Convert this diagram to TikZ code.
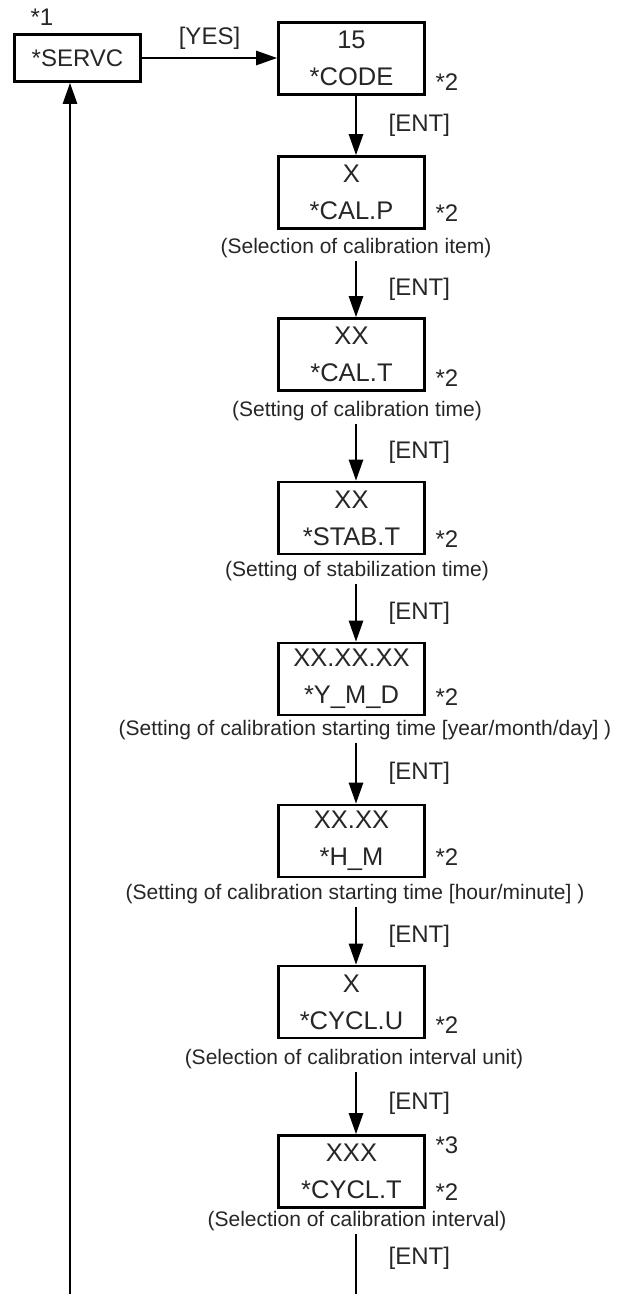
\documentclass[tikz,border=0pt]{standalone}
\usepackage{fontspec}
\setmainfont{Liberation Sans}
\usetikzlibrary{arrows.meta,positioning}

\tikzset{
  menubox/.style={draw,line width=2.6pt,minimum width=146pt,minimum height=72pt,
    inner sep=0pt,align=center,text=black!85,font=\fontsize{25.5}{37}\selectfont},
  caption/.style={text=black!85,font=\fontsize{21}{25}\selectfont},
  note/.style={text=black!85,font=\fontsize{24}{28}\selectfont},
  flow/.style={line width=2.6pt,-{Triangle[length=21pt,width=14pt]}},
  plain/.style={line width=2.6pt}
}

\begin{document}
\begin{tikzpicture}[x=1pt,y=-1pt]
  \useasboundingbox (0,0) rectangle (618,1294);
  \coordinate (col) at (356,0);
  \coordinate (bot) at (356,1294);
  \coordinate (retbot) at (70,1294);

  % service entry
  \node[menubox,minimum width=126pt,minimum height=47pt,font=\fontsize{24}{28}\selectfont]
    (servc) at (77.5,58) {*SERVC};
  \node[note] at (42,17) {*1};

  % menu chain
  \node[menubox] (code)  at (351.5,58.5)   {15\\*CODE};
  \node[menubox] (calp)  at (351.5,192.5)  {X\\*CAL.P};
  \node[menubox] (calt)  at (351.5,354.5)  {XX\\*CAL.T};
  \node[menubox] (stabt) at (351.5,518)    {XX\\*STAB.T};
  \node[menubox] (ymd)   at (351.5,679)    {XX.XX.XX\\*Y\_M\_D};
  \node[menubox] (hm)    at (351.5,841)    {XX.XX\\*H\_M};
  \node[menubox] (cyclu) at (351.5,1002)   {X\\*CYCL.U};
  \node[menubox] (cyclt) at (351.5,1171.5) {XXX\\*CYCL.T};

  \node[caption] (capp)  at (356,248)  {(Selection of calibration item)};
  \node[caption] (capt)  at (357,411)  {(Setting of calibration time)};
  \node[caption] (capst) at (357,571)  {(Setting of stabilization time)};
  \node[caption] (capd)  at (365,730)  {(Setting of calibration starting time [year/month/day] )};
  \node[caption] (caph)  at (355,894)  {(Setting of calibration starting time [hour/minute] )};
  \node[caption] (capu)  at (354,1059) {(Selection of calibration interval unit)};
  \node[caption] (capi)  at (357,1221) {(Selection of calibration interval)};

  \node[note] at (447,82)   {*2};
  \node[note] at (447,213)  {*2};
  \node[note] at (447,378)  {*2};
  \node[note] at (447,539)  {*2};
  \node[note] at (447,697)  {*2};
  \node[note] at (447,857)  {*2};
  \node[note] at (447,1025) {*2};
  \node[note] at (447,1145) {*3};
  \node[note] at (447,1192) {*2};

  % connectors
  \draw[flow] (servc.east) -- (servc.east -| code.west)
    node[midway,above=4pt,note] {[YES]};
  \draw[flow] (code.south -| col) -- (calp.north -| col)
    node[midway,right=28pt,note] {[ENT]};
  \draw[flow] (capp.south -| col) -- (calt.north -| col)
    node[midway,right=28pt,note] {[ENT]};
  \draw[flow] (capt.south -| col) -- (stabt.north -| col)
    node[midway,right=28pt,note] {[ENT]};
  \draw[flow] (capst.south -| col) -- (ymd.north -| col)
    node[midway,right=28pt,note] {[ENT]};
  \draw[flow] (capd.south -| col) -- (hm.north -| col)
    node[midway,right=28pt,note] {[ENT]};
  \draw[flow] (caph.south -| col) -- (cyclu.north -| col)
    node[midway,right=28pt,note] {[ENT]};
  \draw[flow] (capu.south -| col) -- (cyclt.north -| col)
    node[midway,right=28pt,note] {[ENT]};
  \draw[plain] (capi.south -| col) -- (bot)
    node[pos=0.4,right=28pt,note] {[ENT]};

  % return to service
  \draw[flow] (retbot) -- (servc.south -| retbot);
\end{tikzpicture}
\end{document}
